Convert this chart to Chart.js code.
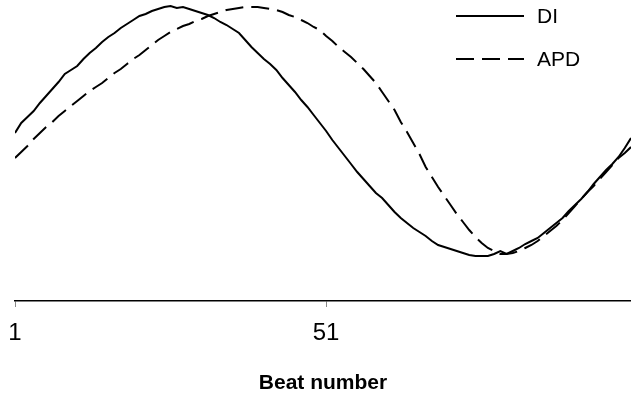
<!DOCTYPE html>
<html>
<head>
<meta charset="utf-8">
<script src="https://cdn.jsdelivr.net/npm/chart.js@4.4.1/dist/chart.umd.min.js"></script>
<style>
  body { margin: 0; background: #fff; }
</style>
</head>
<body>
<canvas id="myChart" width="631" height="398"></canvas>
<script>
// 박동 번호 1 ~ 100
const beats = [];
for (let b = 1; b <= 100; b++) beats.push(b);

// x축에 표시할 눈금
const tickBeats = [1, 51];

// DI (diastolic interval)
const diValues = [
  168, 178, 184, 190, 198, 205, 212, 219, 227, 231,
  235, 242, 248, 253, 259, 264, 268, 273, 277, 281,
  285, 287, 290, 292, 294, 295, 293, 294, 292, 290,
  288, 286, 283, 279, 276, 272, 268, 261, 254, 248,
  242, 237, 231, 223, 216, 209, 201, 194, 186, 178,
  170, 161, 153, 145, 137, 129, 122, 115, 108, 103,
  96, 89, 83, 78, 73, 69, 65, 60, 56, 54,
  52, 50, 48, 46, 45, 45, 45, 47, 50, 47,
  50, 53, 57, 60, 63, 68, 73, 78, 83, 90,
  96, 102, 109, 117, 124, 131, 137, 144, 153, 163,
];

// APD (action potential duration)
const apdValues = [
  143, 149, 155, 162, 168, 174, 179, 185, 190, 195,
  200, 205, 210, 214, 218, 223, 228, 232, 237, 242,
  246, 251, 256, 261, 265, 269, 272, 275, 277, 280,
  282, 285, 287, 289, 291, 292, 293, 294, 294, 294,
  293, 292, 291, 289, 286, 284, 281, 278, 274, 271,
  265, 260, 254, 249, 244, 238, 232, 225, 218, 209,
  200, 191, 179, 169, 158, 147, 134, 124, 114, 105,
  96, 87, 79, 71, 64, 58, 53, 50, 47, 47,
  48, 50, 53, 56, 60, 65, 70, 75, 81, 88,
  95, 102, 109, 115, 122, 129, 136, 143, 148, 154,
];

const seriesNames = ["DI", "APD"];

const FONT = "'Liberation Sans', Arial, sans-serif";

// 오른쪽 위 범례 직접 그리기
const lineLegend = {
  id: "lineLegend",
  afterDraw(chart) {
    const ctx = chart.ctx;
    ctx.save();
    chart.data.datasets.forEach((ds, i) => {
      const y = 16 + i * 43;
      ctx.beginPath();
      ctx.setLineDash(ds.borderDash || []);
      ctx.lineWidth = ds.borderWidth;
      ctx.strokeStyle = ds.borderColor;
      ctx.moveTo(456, y);
      ctx.lineTo(524, y);
      ctx.stroke();
      ctx.setLineDash([]);
      ctx.fillStyle = "#000";
      ctx.font = "21px " + FONT;
      ctx.textBaseline = "middle";
      ctx.fillText(ds.label, 537, y + 1);
    });
    ctx.restore();
  },
};

const chartData = {
  labels: beats,
  datasets: [
    {
      label: seriesNames[0],
      data: diValues,
      borderColor: "#000",
      borderWidth: 2,
      pointRadius: 0,
      tension: 0,
    },
    {
      label: seriesNames[1],
      data: apdValues,
      borderColor: "#000",
      borderWidth: 2,
      borderDash: [18, 8],
      pointRadius: 0,
      tension: 0,
    },
  ],
};

const chartOptions = {
  responsive: false,
  animation: false,
  layout: {
    padding: { left: 15, right: 0, top: 0, bottom: 0 },
  },
  plugins: {
    legend: { display: false },
    tooltip: { enabled: false },
  },
  scales: {
    x: {
      type: "linear",
      min: 1,
      max: 100,
      afterBuildTicks: (scale) => {
        scale.ticks = tickBeats.map((v) => ({ value: v }));
      },
      // 첫 눈금 글자 때문에 생기는 왼쪽 여백 제거 (layout padding 만 사용)
      afterFit: (scale) => {
        scale.paddingLeft = 0;
      },
      grid: {
        drawOnChartArea: false,
        drawTicks: true,
        tickLength: 6,
        color: "#888",
      },
      border: { display: true, color: "#000", width: 1.5 },
      ticks: {
        color: "#000",
        padding: 12,
        maxRotation: 0,
        font: { family: FONT, size: 24 },
      },
      title: {
        display: true,
        text: "Beat number",
        color: "#000",
        padding: { top: 11, bottom: 2 },
        font: { family: FONT, size: 21, weight: "bold" },
      },
    },
    y: {
      display: false,
      min: 0,
      max: 301,
    },
  },
};

const ctx = document.getElementById("myChart").getContext("2d");
const myChart = new Chart(ctx, {
  type: "line",
  data: chartData,
  options: chartOptions,
  plugins: [lineLegend],
});
</script>
</body>
</html>
